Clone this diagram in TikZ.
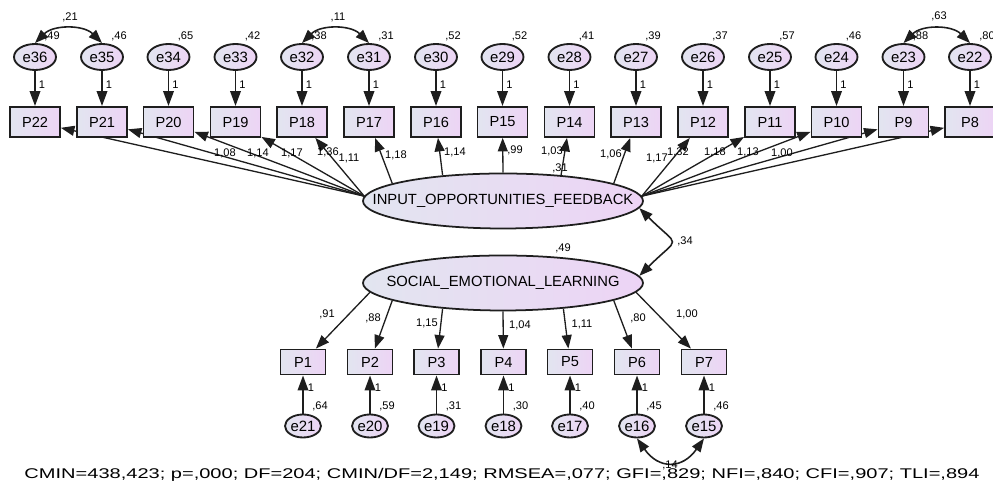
\documentclass[tikz,border=0pt]{standalone}
\usepackage{fontspec}
\setmainfont{Liberation Sans}
\usepackage{graphicx}
\usetikzlibrary{arrows.meta, shapes.geometric}
\pgfdeclarelayer{background}
\pgfsetlayers{background,main}

\definecolor{boxleft}{RGB}{226,229,240}
\definecolor{boxright}{RGB}{237,212,245}
\definecolor{rim}{RGB}{30,30,30}

\tikzset{
  obs/.style={rectangle, draw=rim, line width=1.05pt, left color=boxleft, right color=boxright,
    minimum width=1cm, minimum height=0.6cm, inner sep=0pt, font=\fontsize{8.3}{10}\selectfont},
  obsb/.style={obs, minimum width=0.9cm, minimum height=0.5cm},
  err/.style={ellipse, draw=rim, line width=1.05pt, left color=boxleft, right color=boxright,
    minimum width=0.84cm, minimum height=0.52cm, inner sep=0pt, font=\fontsize{8.5}{10}\selectfont},
  errb/.style={err, minimum width=0.72cm, minimum height=0.46cm},
  lat/.style={ellipse, draw=rim, line width=1pt, left color=boxleft, right color=boxright,
    minimum width=5.6cm, minimum height=1.1cm, inner sep=0pt, font=\fontsize{8.4}{10}\selectfont},
  num/.style={inner sep=0pt, font=\fontsize{6.3}{7}\selectfont},
  tip/.style={draw=rim, line width=1.1pt, -{Triangle[length=0.3cm,width=0.21cm]}},
  load/.style={draw=rim, line width=0.75pt, -{Triangle[length=0.27cm,width=0.2cm]}},
  cov/.style={draw=rim, line width=0.9pt, {Triangle[length=0.27cm,width=0.2cm]}-{Triangle[length=0.27cm,width=0.2cm]}}
}

\begin{document}
\begin{tikzpicture}[scale=1]
\useasboundingbox (0,0) rectangle (19.86,9.68);

% latent variables
\node[lat] (inp) at (10.06,5.66) {\makebox[0pt]{INPUT\_OPPORTUNITIES\_FEEDBACK}};
\node[lat] (sel) at (10.06,4.02) {\makebox[0pt]{SOCIAL\_EMOTIONAL\_LEARNING}};

% upper items
\node[obs] (p22) at (0.70,7.24) {P22};
\node[obs] (p21) at (2.04,7.24) {P21};
\node[obs] (p20) at (3.37,7.24) {P20};
\node[obs] (p19) at (4.71,7.24) {P19};
\node[obs] (p18) at (6.04,7.24) {P18};
\node[obs] (p17) at (7.38,7.24) {P17};
\node[obs] (p16) at (8.72,7.24) {P16};
\node[obs] (p15) at (10.05,7.24) {P15};
\node[obs] (p14) at (11.39,7.24) {P14};
\node[obs] (p13) at (12.72,7.24) {P13};
\node[obs] (p12) at (14.06,7.24) {P12};
\node[obs] (p11) at (15.40,7.24) {P11};
\node[obs] (p10) at (16.73,7.24) {P10};
\node[obs] (p9) at (18.07,7.24) {P9};
\node[obs] (p8) at (19.40,7.24) {P8};

\node[err] (e36) at (0.70,8.54) {e36};
\node[err] (e35) at (2.04,8.54) {e35};
\node[err] (e34) at (3.37,8.54) {e34};
\node[err] (e33) at (4.71,8.54) {e33};
\node[err] (e32) at (6.04,8.54) {e32};
\node[err] (e31) at (7.38,8.54) {e31};
\node[err] (e30) at (8.72,8.54) {e30};
\node[err] (e29) at (10.05,8.54) {e29};
\node[err] (e28) at (11.39,8.54) {e28};
\node[err] (e27) at (12.72,8.54) {e27};
\node[err] (e26) at (14.06,8.54) {e26};
\node[err] (e25) at (15.40,8.54) {e25};
\node[err] (e24) at (16.73,8.54) {e24};
\node[err] (e23) at (18.07,8.54) {e23};
\node[err] (e22) at (19.40,8.54) {e22};

% lower items
\node[obsb] (p1) at (6.06,2.44) {P1};
\node[obsb] (p2) at (7.40,2.44) {P2};
\node[obsb] (p3) at (8.73,2.44) {P3};
\node[obsb] (p4) at (10.07,2.44) {P4};
\node[obsb] (p5) at (11.40,2.44) {P5};
\node[obsb] (p6) at (12.74,2.44) {P6};
\node[obsb] (p7) at (14.08,2.44) {P7};

\node[errb] (e21) at (6.06,1.16) {e21};
\node[errb] (e20) at (7.40,1.16) {e20};
\node[errb] (e19) at (8.73,1.16) {e19};
\node[errb] (e18) at (10.07,1.16) {e18};
\node[errb] (e17) at (11.40,1.16) {e17};
\node[errb] (e16) at (12.74,1.16) {e16};
\node[errb] (e15) at (14.08,1.16) {e15};

% loadings, kept behind the boxes
\begin{pgfonlayer}{background}
\draw[load] (inp.178) -- (p22);
\draw[load] (inp.178) -- (p21);
\draw[load] (inp.178) -- (p20);
\draw[load] (inp.178) -- (p19);
\draw[load] (inp.178) -- (p18);
\draw[load] (inp.171) -- (p17);
\draw[load] (inp.157) -- (p16);
\draw[load] (inp.90) -- (p15);
\draw[load] (inp.24) -- (p14);
\draw[load] (inp.9) -- (p13);
\draw[load] (inp.2) -- (p12);
\draw[load] (inp.2) -- (p11);
\draw[load] (inp.2) -- (p10);
\draw[load] (inp.2) -- (p9);
\draw[load] (inp.2) -- (p8);

\draw[load] (sel.184) -- (p1);
\draw[load] (sel.189) -- (p2);
\draw[load] (sel.203) -- (p3);
\draw[load] (sel.270) -- (p4);
\draw[load] (sel.337) -- (p5);
\draw[load] (sel.351) -- (p6);
\draw[load] (sel.356) -- (p7);
\end{pgfonlayer}

% error terms
\draw[tip] (e36) -- (p22);
\draw[tip] (e35) -- (p21);
\draw[tip] (e34) -- (p20);
\draw[tip] (e33) -- (p19);
\draw[tip] (e32) -- (p18);
\draw[tip] (e31) -- (p17);
\draw[tip] (e30) -- (p16);
\draw[tip] (e29) -- (p15);
\draw[tip] (e28) -- (p14);
\draw[tip] (e27) -- (p13);
\draw[tip] (e26) -- (p12);
\draw[tip] (e25) -- (p11);
\draw[tip] (e24) -- (p10);
\draw[tip] (e23) -- (p9);
\draw[tip] (e22) -- (p8);

\draw[tip] (e21) -- (p1);
\draw[tip] (e20) -- (p2);
\draw[tip] (e19) -- (p3);
\draw[tip] (e18) -- (p4);
\draw[tip] (e17) -- (p5);
\draw[tip] (e16) -- (p6);
\draw[tip] (e15) -- (p7);

% covariances
\draw[cov] (e36.north) to[bend left=45] (e35.north);
\draw[cov] (e32.north) to[bend left=45] (e31.north);
\draw[cov] (e23.north) to[bend left=45] (e22.north);
\draw[cov] (e16.south) to[bend right=55, looseness=1.45] (e15.south);
\draw[cov] (inp.-3) to[out=-45, in=45, looseness=2.2] (sel.3);

\node[num] (c1) at (1.40,9.34) {,21};
\node[num] (c2) at (6.76,9.34) {,11};
\node[num] (c3) at (18.78,9.36) {,63};
\node[num] (c4) at (13.40,0.38) {,14};
\node[num] (c5) at (13.70,4.86) {,34};

% variances
\node[num] (v36) at (1.04,8.96) {,49};
\node[num] (v35) at (2.38,8.96) {,46};
\node[num] (v34) at (3.71,8.96) {,65};
\node[num] (v33) at (5.05,8.96) {,42};
\node[num] (v32) at (6.38,8.96) {,38};
\node[num] (v31) at (7.72,8.96) {,31};
\node[num] (v30) at (9.06,8.96) {,52};
\node[num] (v29) at (10.39,8.96) {,52};
\node[num] (v28) at (11.73,8.96) {,41};
\node[num] (v27) at (13.06,8.96) {,39};
\node[num] (v26) at (14.40,8.96) {,37};
\node[num] (v25) at (15.74,8.96) {,57};
\node[num] (v24) at (17.07,8.96) {,46};
\node[num] (v23) at (18.41,8.96) {,88};
\node[num] (v22) at (19.74,8.96) {,80};

\node[num] (v21) at (6.40,1.56) {,64};
\node[num] (v20) at (7.74,1.56) {,59};
\node[num] (v19) at (9.07,1.56) {,31};
\node[num] (v18) at (10.41,1.56) {,30};
\node[num] (v17) at (11.74,1.56) {,40};
\node[num] (v16) at (13.08,1.56) {,45};
\node[num] (v15) at (14.42,1.56) {,46};

\node[num] (vinp) at (11.20,6.32) {,31};
\node[num] (vsel) at (11.26,4.72) {,49};

% fixed paths
\node[num] (f36) at (0.84,7.98) {1};
\node[num] (f35) at (2.18,7.98) {1};
\node[num] (f34) at (3.51,7.98) {1};
\node[num] (f33) at (4.85,7.98) {1};
\node[num] (f32) at (6.18,7.98) {1};
\node[num] (f31) at (7.52,7.98) {1};
\node[num] (f30) at (8.86,7.98) {1};
\node[num] (f29) at (10.19,7.98) {1};
\node[num] (f28) at (11.53,7.98) {1};
\node[num] (f27) at (12.86,7.98) {1};
\node[num] (f26) at (14.20,7.98) {1};
\node[num] (f25) at (15.54,7.98) {1};
\node[num] (f24) at (16.87,7.98) {1};
\node[num] (f23) at (18.21,7.98) {1};
\node[num] (f22) at (19.54,7.98) {1};

\node[num] (f21) at (6.22,1.92) {1};
\node[num] (f20) at (7.56,1.92) {1};
\node[num] (f19) at (8.89,1.92) {1};
\node[num] (f18) at (10.23,1.92) {1};
\node[num] (f17) at (11.56,1.92) {1};
\node[num] (f16) at (12.90,1.92) {1};
\node[num] (f15) at (14.24,1.92) {1};

% loading estimates
\node[num] (l22) at (4.50,6.62) {1,08};
\node[num] (l21) at (5.16,6.62) {1,14};
\node[num] (l20) at (5.84,6.62) {1,17};
\node[num] (l19) at (6.56,6.64) {1,36};
\node[num] (l18) at (6.98,6.52) {1,11};
\node[num] (l17) at (7.92,6.58) {1,18};
\node[num] (l16) at (9.10,6.64) {1,14};
\node[num] (l15) at (10.30,6.68) {,99};
\node[num] (l14) at (11.04,6.66) {1,03};
\node[num] (l13) at (12.22,6.60) {1,06};
\node[num] (l12) at (13.14,6.52) {1,17};
\node[num] (l11) at (13.56,6.64) {1,32};
\node[num] (l10) at (14.30,6.64) {1,18};
\node[num] (l9) at (14.96,6.64) {1,13};
\node[num] (l8) at (15.64,6.62) {1,00};

\node[num] (l1) at (6.54,3.40) {,91};
\node[num] (l2) at (7.46,3.32) {,88};
\node[num] (l3) at (8.54,3.22) {1,15};
\node[num] (l4) at (10.40,3.18) {1,04};
\node[num] (l5) at (11.64,3.20) {1,11};
\node[num] (l6) at (12.76,3.32) {,80};
\node[num] (l7) at (13.74,3.40) {1,00};

% fit indices
\node[anchor=base, inner sep=0pt, font=\fontsize{8}{10}\selectfont] (fit) at (10.04,0.10)
  {\resizebox{19.1cm}{\height}{CMIN=438,423; p=,000; DF=204; CMIN/DF=2,149; RMSEA=,077; GFI=,829; NFI=,840; CFI=,907; TLI=,894}};
\end{tikzpicture}
\end{document}
